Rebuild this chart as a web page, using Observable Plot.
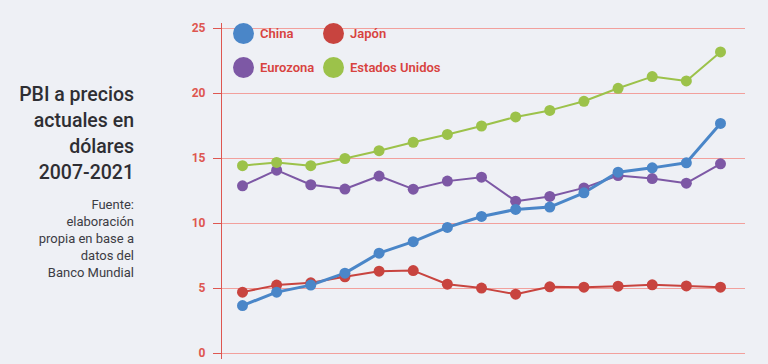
<!DOCTYPE html>
<html><head><meta charset="utf-8">
<script src="https://cdn.jsdelivr.net/npm/d3@7"></script>
<script src="https://cdn.jsdelivr.net/npm/@observablehq/plot@0.6"></script>
<style>
body{margin:0;background:#eef0f5;font-family:Roboto,"Noto Sans",sans-serif;}
#wrap{position:relative;width:768px;height:364px;overflow:hidden;background:#eef0f5;}
#title{position:absolute;right:634px;top:82px;text-align:right;color:#2e2e33;font-size:19.5px;line-height:26px;font-weight:500;}
#src{position:absolute;right:634px;top:196px;text-align:right;color:#3c3c44;font-size:13px;line-height:17px;}
#legend{position:absolute;left:233px;top:23px;font-size:13px;font-weight:600;color:#d8433f;}
.it{position:absolute;display:flex;align-items:center;white-space:nowrap;}
.sw{width:21px;height:21px;border-radius:50%;margin-right:6px;}
</style></head>
<body><div id="wrap"><div id="title"></div><div id="src"></div><div id="legend"></div><div id="chart"></div></div>
<script>
const years = [2007,2008,2009,2010,2011,2012,2013,2014,2015,2016,2017,2018,2019,2020,2021];
const series = ["China","Japón","Eurozona","Estados Unidos"];
const colors = ["#4a86c8","#c8443f","#7d58a5","#9cc24a"];
const china = [3.69,4.72,5.26,6.18,7.72,8.6,9.7,10.54,11.08,11.26,12.36,13.95,14.28,14.67,17.7];
const japon = [4.72,5.26,5.44,5.9,6.33,6.38,5.33,5.03,4.56,5.13,5.1,5.18,5.28,5.2,5.1];
const eurozona = [12.9,14.1,12.98,12.65,13.65,12.64,13.26,13.56,11.72,12.08,12.74,13.69,13.46,13.1,14.59];
const eeuu = [14.45,14.7,14.45,15.0,15.6,16.25,16.85,17.5,18.2,18.7,19.4,20.4,21.3,20.97,23.2];
const yTicks = [0,5,10,15,20,25];
const titleLines = ["PBI a precios","actuales en","dólares","2007-2021"];
const sourceLines = ["Fuente:","elaboración","propia en base a","datos del","Banco Mundial"];

document.getElementById("title").innerHTML = titleLines.join("<br>");
document.getElementById("src").innerHTML = sourceLines.join("<br>");
const legendPos = [[0,0],[90,0],[0,34],[90,34]];
document.getElementById("legend").innerHTML = series.map((s,i)=>
  `<div class="it" style="left:${legendPos[i][0]}px;top:${legendPos[i][1]}px"><span class="sw" style="background:${colors[i]}"></span>${s}</div>`).join("");

const vals = [china, japon, eurozona, eeuu];
const data = [];
series.forEach((s,i)=>years.forEach((y,j)=>data.push({serie:s, year:y, value:vals[i][j]})));
const order = ["Japón","Eurozona","Estados Unidos","China"];

const axisColor = "#de5650";
const chart = Plot.plot({
  width: 768, height: 364,
  marginLeft: 221, marginRight: 23, marginTop: 28, marginBottom: 11,
  style: {background: "transparent", fontFamily: "Roboto, sans-serif"},
  x: {domain: [2007, 2021], insetLeft: 21, insetRight: 25, axis: null},
  y: {domain: [0, 25], axis: null},
  color: {domain: series, range: colors},
  marks: [
    Plot.ruleY(yTicks, {stroke: "#f2a09c", strokeWidth: 1}),
    Plot.axisY(yTicks, {label: null, tickSize: 8, tickPadding: 8, stroke: axisColor, color: axisColor, fontSize: 12, fontWeight: 700, tickFormat: d => d}),
    Plot.frame({anchor: "left", stroke: axisColor, insetTop: -5, insetBottom: -5}),
    ...order.map(s => Plot.line(data.filter(d => d.serie === s), {x: "year", y: "value", stroke: colors[series.indexOf(s)], strokeWidth: s === "China" ? 3 : 2})),
    ...order.map(s => Plot.dot(data.filter(d => d.serie === s), {x: "year", y: "value", fill: colors[series.indexOf(s)], r: 5.5}))
  ]
});
document.getElementById("chart").appendChild(chart);
</script></body></html>
